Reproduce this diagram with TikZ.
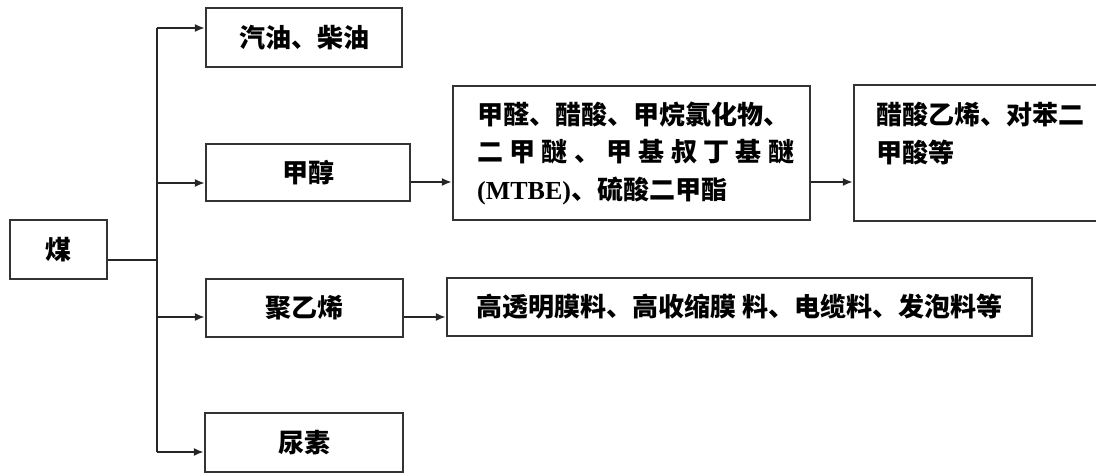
\documentclass[tikz,border=0pt]{standalone}
\usepackage{fontspec}
\newfontfamily\cjk{Noto Sans CJK SC}
\newfontfamily\tms{Liberation Serif}
\usetikzlibrary{arrows.meta}
\begin{document}
\begin{tikzpicture}[x=1pt,y=-1pt,
  txt/.style={inner sep=0pt, font=\cjk\bfseries\fontsize{26}{37.5}\selectfont},
  box/.style={txt, draw=black!80, line width=2.2pt},
  link/.style={line width=2.2pt, draw=black!85},
  arr/.style={link, -{Latex[length=10pt,width=8pt]}}]
\useasboundingbox (0,0) rectangle (1096,473);
\clip (0,0) rectangle (1096,473);
% boxes
\node[box, minimum width=97pt, minimum height=59pt] (mei) at (58.5,249.5) {煤};
\node[box, minimum width=196pt, minimum height=59pt] (qy) at (304,37.5) {汽油、柴油};
\node[box, minimum width=204pt, minimum height=57pt] (jc) at (308,172.5) {甲醇};
\node[box, minimum width=197pt, minimum height=58pt] (pe) at (304.5,308) {聚乙烯};
\node[box, minimum width=198pt, minimum height=59pt] (ns) at (304,442.5) {尿素};
\node[box, minimum width=357pt, minimum height=134pt] (mid) at (631.5,153) {};
\node[txt, anchor=west, align=left] (midt) at (477,153)
  {甲醛、醋酸、甲烷氯化物、\\
   \leavevmode\hbox to 317pt{二\hfill 甲\hfill 醚\hfill 、\hfill 甲\hfill 基\hfill 叔\hfill 丁\hfill 基\hfill 醚}\\
   {\tms\bfseries (MTBE)}、硫酸二甲酯};
\node[box, minimum width=260pt, minimum height=136pt] (rb) at (984,153) {};
\node[txt, anchor=north west, align=left] (rbt) at (876,102) {醋酸乙烯、对苯二\\甲酸等};
\node[box, minimum width=585pt, minimum height=58pt] (pr) at (739.5,307) {高透明膜料、高收缩膜 料、电缆料、发泡料等};
% trunk
\coordinate (t1) at (157,28);
\coordinate (t2) at (157,183);
\coordinate (tm) at (157,260);
\coordinate (t3) at (157,317);
\coordinate (t4) at (157,452);
\draw[link] (t1) -- (t4);
\draw[link] (mei.east |- tm) -- (tm);
\draw[arr] (t1) -- (t1 -| qy.west);
\draw[arr] (t2) -- (t2 -| jc.west);
\draw[arr] (t3) -- (t3 -| pe.west);
\draw[arr] (t4) -- (t4 -| ns.west);
% second level
\coordinate (c1) at (431,182);
\draw[arr] (jc.east |- c1) -- (mid.west |- c1);
\draw[arr] (mid.east |- c1) -- (rb.west |- c1);
\coordinate (c2) at (425,317);
\draw[arr] (pe.east |- c2) -- (pr.west |- c2);
\end{tikzpicture}
\end{document}
